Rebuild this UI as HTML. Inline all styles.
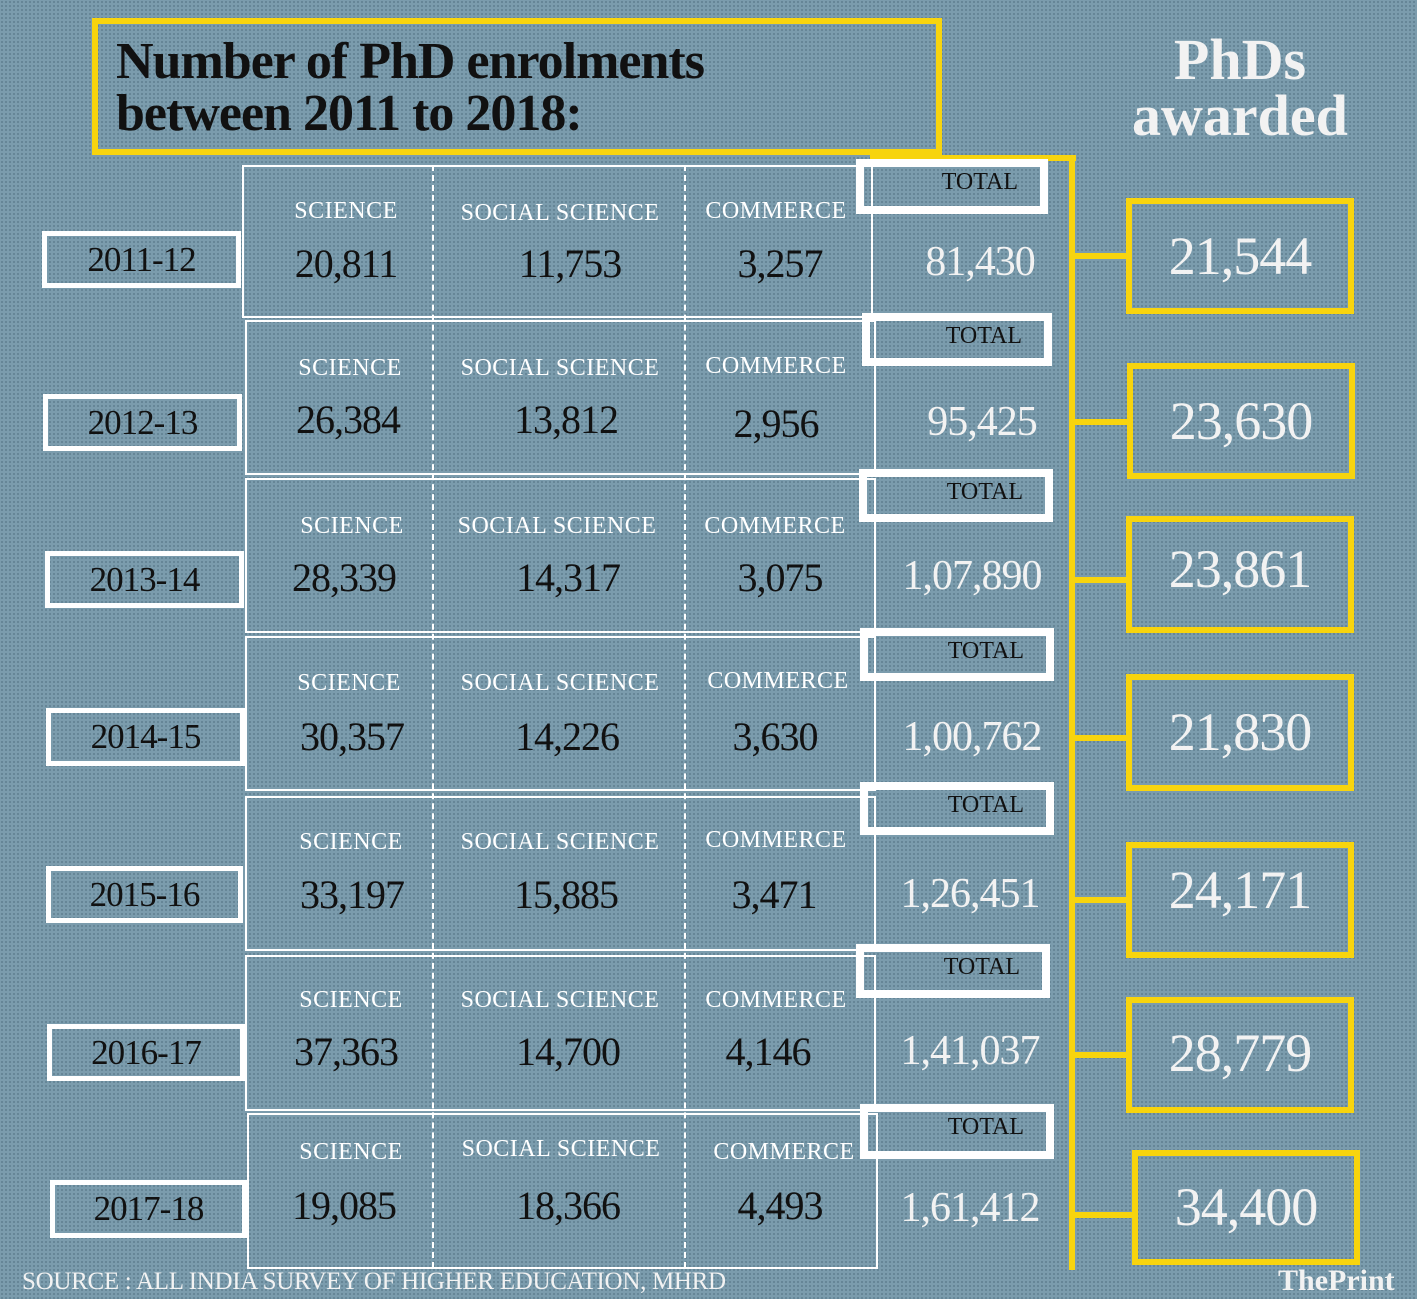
<!DOCTYPE html><html><head><style>
body{margin:0;width:1417px;height:1299px;overflow:hidden;background:#7b9cad;background-image:radial-gradient(#5f7f90 0.8px,transparent 1px);background-size:4px 4px;font-family:"Liberation Serif",serif;position:relative}
div{position:absolute;box-sizing:border-box}
.t{border:2px solid #fff}
.y{border:5px solid #fff;color:#111;font-size:35px;text-align:center;letter-spacing:-1px}
.l{color:#fff;font-size:24px;text-align:center;width:240px;letter-spacing:0.5px}
.n{color:#111;font-size:40px;text-align:center;width:240px;letter-spacing:-1px}
.tb{border:8px solid #fff;color:#111;font-size:24px;text-align:right;padding-right:22px;line-height:30px}
.tn{color:#f2f2f2;font-size:42px;text-align:center;width:200px;letter-spacing:-1px}
.aw{border:6px solid #f7d40e;color:#f2f2f2;font-size:54px;text-align:center;letter-spacing:-1px}
.yl{background:#f7d40e}
.d{border-left:2px dashed #fff;width:2px}
</style></head><body>
<div style="left:92px;top:18px;width:850px;height:137px;border:6px solid #f7d40e;padding:12px 0 0 18px;font-size:52px;line-height:52px;color:#111;font-weight:bold;letter-spacing:-1px">Number of PhD enrolments<br>between 2011 to 2018:</div>
<div style="left:1110px;top:32px;width:260px;text-align:center;color:#f2f2f2;font-size:58px;line-height:56px;font-weight:bold">PhDs<br>awarded</div>
<div class="yl" style="left:870px;top:155px;width:206px;height:6px"></div>
<div class="yl" style="left:1069px;top:155px;width:6px;height:1115px"></div>
<div class="d" style="left:432px;top:165px;height:1103px"></div>
<div class="d" style="left:684px;top:165px;height:1103px"></div>
<div style="left:22px;top:1268px;width:800px;color:#f2f2f2;font-size:25px;letter-spacing:-0.3px">SOURCE : ALL INDIA SURVEY OF HIGHER EDUCATION, MHRD</div>
<div style="left:1278px;top:1264px;color:#f2f2f2;font-size:30px;font-weight:bold">The<span>Print</span></div>
<!-- rows -->
<div class="t" style="left:242px;top:165px;width:631px;height:153px"></div>
<div class="y" style="left:42px;top:231px;width:199px;height:57px;line-height:47px">2011-12</div>
<div class="l" style="left:226px;top:198px">SCIENCE</div><div class="l" style="left:440px;top:200px">SOCIAL SCIENCE</div><div class="l" style="left:656px;top:198px">COMMERCE</div>
<div class="n" style="left:226px;top:240px">20,811</div><div class="n" style="left:450px;top:240px">11,753</div><div class="n" style="left:660px;top:240px">3,257</div>
<div class="tb" style="left:856px;top:159px;width:192px;height:55px">TOTAL</div><div class="tn" style="left:880px;top:238px">81,430</div>
<div class="aw" style="left:1126px;top:198px;width:228px;height:116px;line-height:104px">21,544</div><div class="yl" style="left:1072px;top:253px;width:56px;height:6px"></div>

<div class="t" style="left:245px;top:320px;width:631px;height:155px"></div>
<div class="y" style="left:43px;top:394px;width:199px;height:57px;line-height:47px">2012-13</div>
<div class="l" style="left:230px;top:355px">SCIENCE</div><div class="l" style="left:440px;top:355px">SOCIAL SCIENCE</div><div class="l" style="left:656px;top:353px">COMMERCE</div>
<div class="n" style="left:228px;top:396px">26,384</div><div class="n" style="left:446px;top:396px">13,812</div><div class="n" style="left:656px;top:400px">2,956</div>
<div class="tb" style="left:862px;top:313px;width:190px;height:53px">TOTAL</div><div class="tn" style="left:882px;top:398px">95,425</div>
<div class="aw" style="left:1127px;top:363px;width:228px;height:116px;line-height:104px">23,630</div><div class="yl" style="left:1072px;top:419px;width:56px;height:6px"></div>

<div class="t" style="left:245px;top:478px;width:631px;height:155px"></div>
<div class="y" style="left:45px;top:551px;width:199px;height:57px;line-height:47px">2013-14</div>
<div class="l" style="left:232px;top:513px">SCIENCE</div><div class="l" style="left:437px;top:513px">SOCIAL SCIENCE</div><div class="l" style="left:655px;top:513px">COMMERCE</div>
<div class="n" style="left:224px;top:554px">28,339</div><div class="n" style="left:448px;top:554px">14,317</div><div class="n" style="left:660px;top:554px">3,075</div>
<div class="tb" style="left:859px;top:469px;width:194px;height:53px">TOTAL</div><div class="tn" style="left:872px;top:552px">1,07,890</div>
<div class="aw" style="left:1126px;top:516px;width:228px;height:117px;line-height:95px">23,861</div><div class="yl" style="left:1072px;top:577px;width:56px;height:6px"></div>

<div class="t" style="left:245px;top:636px;width:631px;height:155px"></div>
<div class="y" style="left:46px;top:708px;width:199px;height:58px;line-height:48px">2014-15</div>
<div class="l" style="left:229px;top:670px">SCIENCE</div><div class="l" style="left:440px;top:670px">SOCIAL SCIENCE</div><div class="l" style="left:658px;top:668px">COMMERCE</div>
<div class="n" style="left:232px;top:713px">30,357</div><div class="n" style="left:447px;top:713px">14,226</div><div class="n" style="left:655px;top:713px">3,630</div>
<div class="tb" style="left:860px;top:628px;width:194px;height:53px">TOTAL</div><div class="tn" style="left:872px;top:713px">1,00,762</div>
<div class="aw" style="left:1126px;top:674px;width:228px;height:117px;line-height:105px">21,830</div><div class="yl" style="left:1072px;top:735px;width:56px;height:6px"></div>

<div class="t" style="left:245px;top:796px;width:631px;height:155px"></div>
<div class="y" style="left:46px;top:866px;width:197px;height:57px;line-height:47px">2015-16</div>
<div class="l" style="left:231px;top:829px">SCIENCE</div><div class="l" style="left:440px;top:829px">SOCIAL SCIENCE</div><div class="l" style="left:656px;top:827px">COMMERCE</div>
<div class="n" style="left:232px;top:871px">33,197</div><div class="n" style="left:446px;top:871px">15,885</div><div class="n" style="left:654px;top:871px">3,471</div>
<div class="tb" style="left:860px;top:782px;width:194px;height:53px">TOTAL</div><div class="tn" style="left:870px;top:870px">1,26,451</div>
<div class="aw" style="left:1126px;top:842px;width:228px;height:116px;line-height:84px">24,171</div><div class="yl" style="left:1072px;top:897px;width:56px;height:6px"></div>

<div class="t" style="left:245px;top:955px;width:631px;height:156px"></div>
<div class="y" style="left:47px;top:1024px;width:198px;height:57px;line-height:47px">2016-17</div>
<div class="l" style="left:231px;top:987px">SCIENCE</div><div class="l" style="left:440px;top:987px">SOCIAL SCIENCE</div><div class="l" style="left:656px;top:987px">COMMERCE</div>
<div class="n" style="left:226px;top:1028px">37,363</div><div class="n" style="left:448px;top:1028px">14,700</div><div class="n" style="left:648px;top:1028px">4,146</div>
<div class="tb" style="left:856px;top:944px;width:194px;height:54px">TOTAL</div><div class="tn" style="left:870px;top:1027px">1,41,037</div>
<div class="aw" style="left:1126px;top:997px;width:228px;height:116px;line-height:100px">28,779</div><div class="yl" style="left:1072px;top:1052px;width:56px;height:6px"></div>

<div class="t" style="left:247px;top:1113px;width:631px;height:156px"></div>
<div class="y" style="left:50px;top:1180px;width:197px;height:58px;line-height:48px">2017-18</div>
<div class="l" style="left:231px;top:1139px">SCIENCE</div><div class="l" style="left:441px;top:1136px">SOCIAL SCIENCE</div><div class="l" style="left:664px;top:1139px">COMMERCE</div>
<div class="n" style="left:224px;top:1182px">19,085</div><div class="n" style="left:448px;top:1182px">18,366</div><div class="n" style="left:660px;top:1182px">4,493</div>
<div class="tb" style="left:860px;top:1104px;width:194px;height:55px">TOTAL</div><div class="tn" style="left:870px;top:1184px">1,61,412</div>
<div class="aw" style="left:1132px;top:1150px;width:228px;height:115px;line-height:103px">34,400</div><div class="yl" style="left:1072px;top:1212px;width:62px;height:6px"></div>
</body></html>
